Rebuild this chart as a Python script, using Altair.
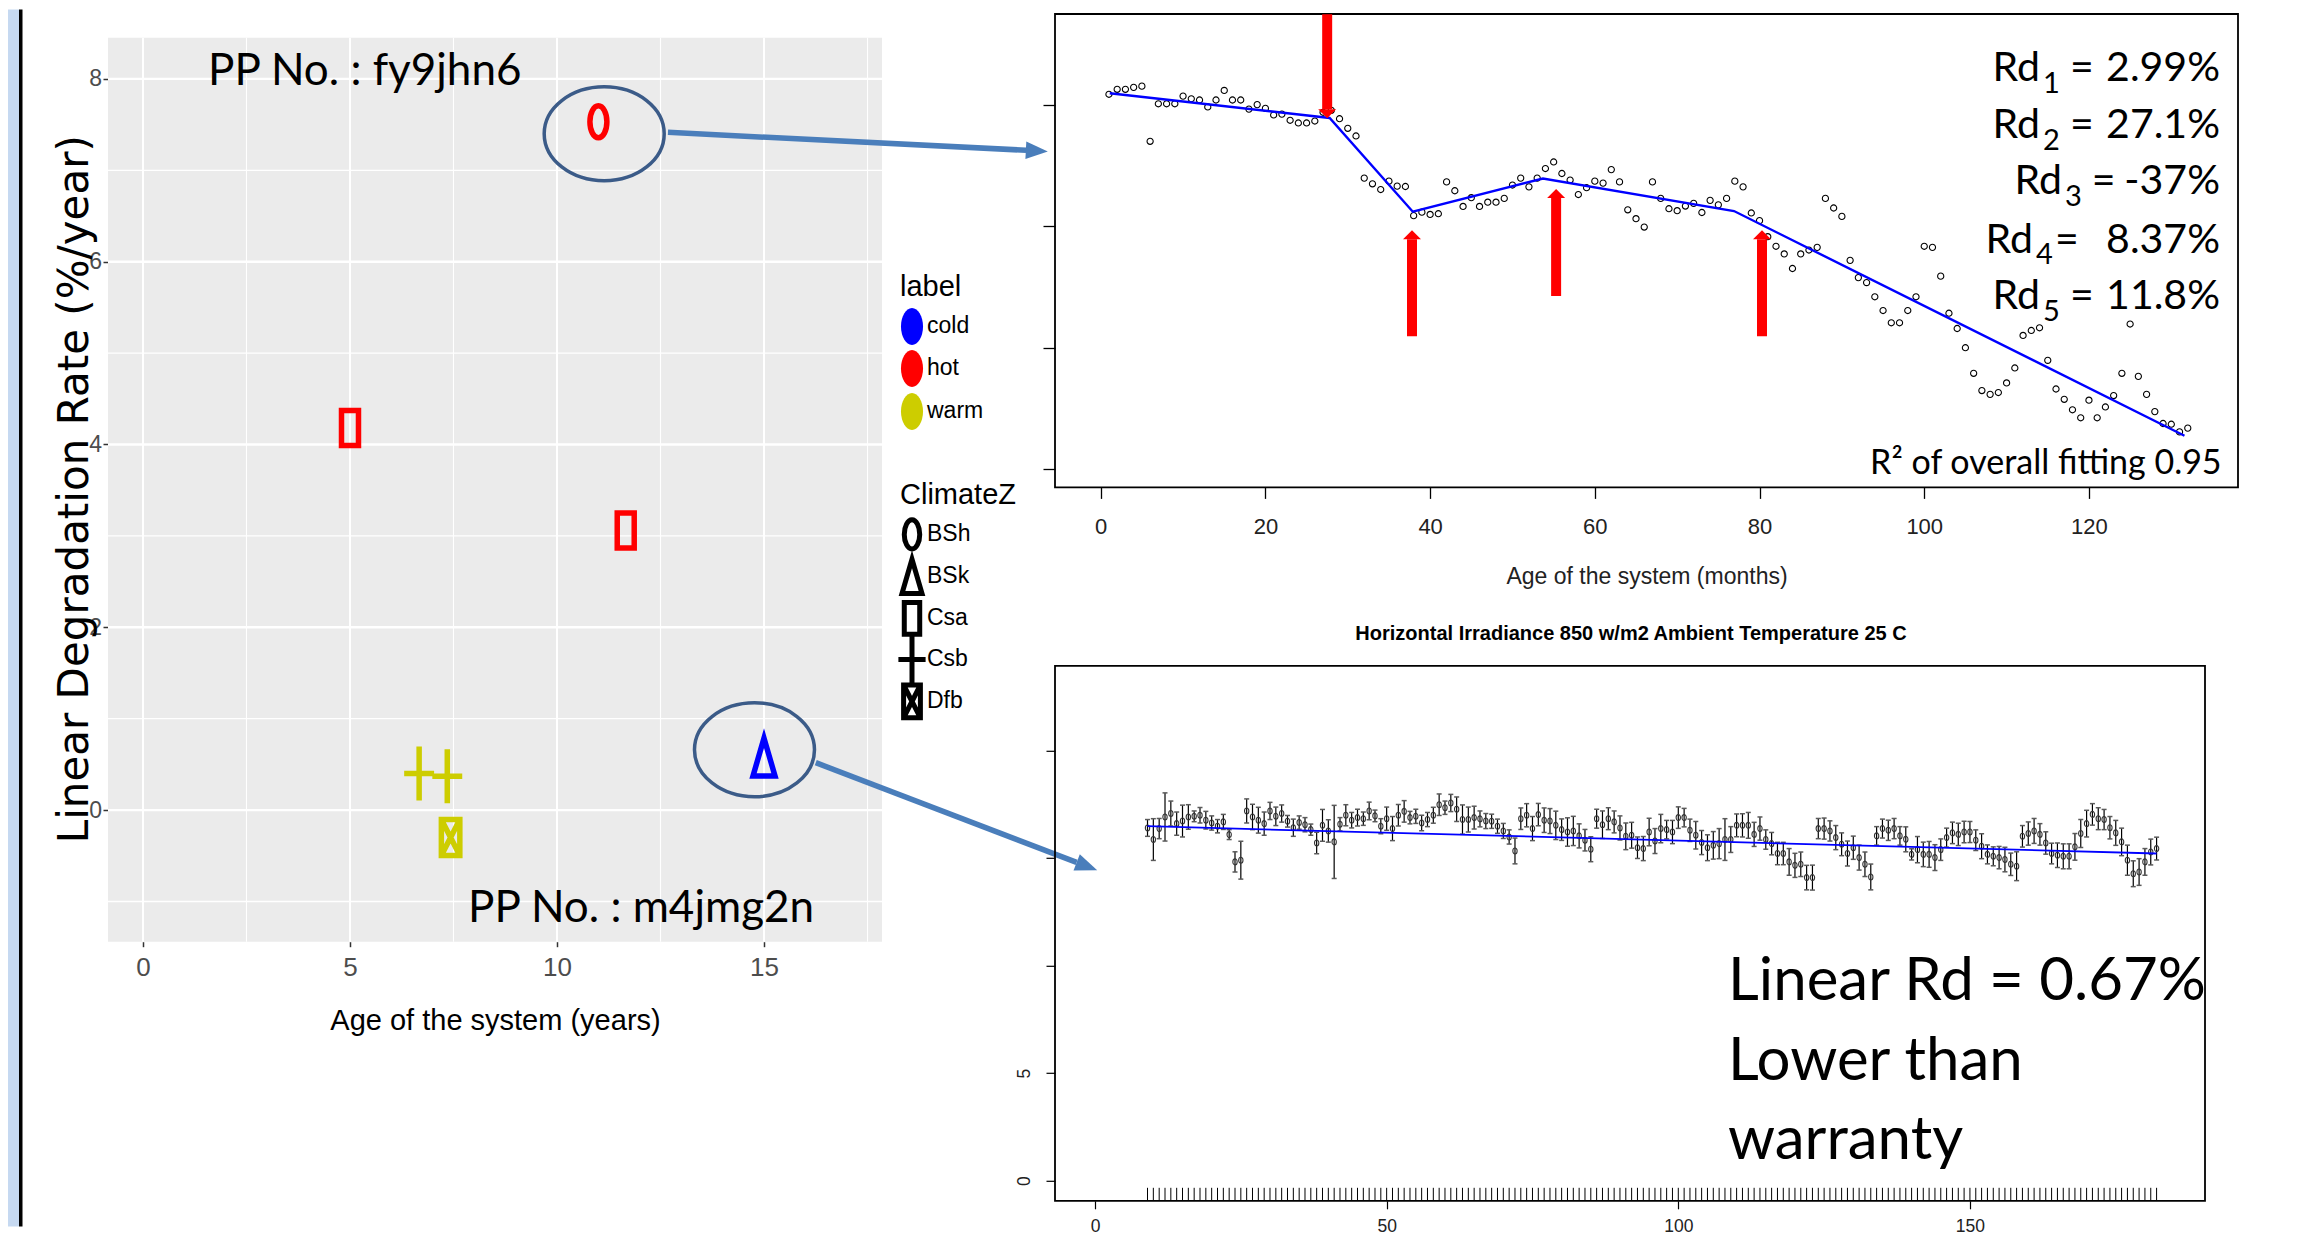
import altair as alt
import pandas as pd

ARIAL = "Liberation Sans, Arial, sans-serif"
CAL = "Lato, Carlito, Open Sans, sans-serif"
WIDE = "DejaVu Sans, Verdana, sans-serif"

# ---------------- Left panel: ggplot scatter ----------------
age_years = [11.0, 5.0, 11.66, 6.67, 7.35, 7.43, 15.0]
rate = [7.53, 4.18, 3.06, 0.40, 0.37, -0.30, 0.58]
climate_label = ["hot", "hot", "hot", "warm", "warm", "warm", "cold"]
climate_zone = ["BSh", "Csa", "Csa", "Csb", "Csb", "Dfb", "BSk"]
label_levels = ["cold", "hot", "warm"]
label_colors = ["#0000FF", "#FF0000", "#CDCD00"]
zone_levels = ["BSh", "BSk", "Csa", "Csb", "Dfb"]
x_ticks_left = [0, 5, 10, 15]
y_ticks_left = [0, 2, 4, 6, 8]
grid_major_x = [0, 5, 10, 15]
grid_minor_x = [2.5, 7.5, 12.5, 17.5]
grid_major_y = [0, 2, 4, 6, 8]
grid_minor_y = [-1, 1, 3, 5, 7]

# ---------------- Top right: piecewise degradation ----------------
perf_months = list(range(1, 133))
perf_values = [
    3.085, 3.126, 3.126, 3.142, 3.152, 2.698, 3.007, 3.007, 3.007, 3.070,
    3.048, 3.038, 2.981, 3.038, 3.117, 3.038, 3.038, 2.963, 3.000, 2.969,
    2.915, 2.922, 2.871, 2.849, 2.849, 2.865, 2.937, 2.953, 2.884, 2.805,
    2.742, 2.395, 2.348, 2.301, 2.370, 2.329, 2.326, 2.086, 2.115, 2.096,
    2.102, 2.364, 2.291, 2.162, 2.234, 2.162, 2.197, 2.197, 2.228, 2.338,
    2.395, 2.323, 2.395, 2.474, 2.528, 2.433, 2.379, 2.260, 2.316, 2.370,
    2.354, 2.465, 2.364, 2.134, 2.061, 1.992, 2.364, 2.228, 2.143, 2.127,
    2.165, 2.187, 2.112, 2.212, 2.175, 2.228, 2.370, 2.323, 2.108, 2.045,
    1.913, 1.834, 1.771, 1.651, 1.771, 1.803, 1.825, 2.228, 2.149, 2.080,
    1.718, 1.576, 1.535, 1.418, 1.305, 1.204, 1.204, 1.305, 1.418, 1.834,
    1.825, 1.588, 1.283, 1.157, 0.999, 0.788, 0.646, 0.615, 0.630, 0.709,
    0.832, 1.100, 1.141, 1.163, 0.895, 0.659, 0.574, 0.488, 0.422, 0.567,
    0.422, 0.511, 0.605, 0.788, 1.194, 0.763, 0.615, 0.473, 0.375, 0.369,
    0.306, 0.337]
fit_months = [1.1, 27.8, 37.9, 53.7, 76.9, 131.6]
fit_values = [3.094, 2.890, 2.118, 2.392, 2.124, 0.274]
arrow_month = [27.5, 37.8, 55.3, 80.3]
arrow_tail = [3.743, 1.093, 1.424, 1.093]
arrow_base = [2.962, 1.891, 2.232, 1.891]
arrow_tip = [2.889, 1.965, 2.306, 1.965]
arrow_angle = [180, 0, 0, 0]
x_ticks_top = [0, 20, 40, 60, 80, 100, 120]
y_ticks_top = [0, 1, 2, 3]
rd_names = ["1", "2", "3", "4", "5"]
rd_values = ["2.99%", "27.1%", "-37%", "8.37%", "11.8%"]

# ---------------- Bottom right: linear fit with error bars ----------------
irr_x = list(range(9, 183))
irr_mean = [
    16.40, 15.86, 16.37, 16.91, 17.07, 16.60, 16.72, 16.91, 16.94, 16.99,
    16.76, 16.63, 16.48, 16.68, 16.09, 14.82, 14.90, 17.19, 16.91, 16.76,
    16.60, 17.19, 16.94, 17.07, 16.71, 16.41, 16.65, 16.55, 16.32, 15.70,
    16.52, 16.26, 15.75, 16.57, 16.99, 16.76, 16.88, 16.83, 17.19, 16.96,
    16.48, 16.83, 16.37, 16.99, 17.17, 16.88, 16.94, 16.63, 16.79, 16.99,
    17.48, 17.34, 17.56, 17.27, 16.79, 16.79, 16.88, 16.82, 16.72, 16.71,
    16.48, 16.26, 15.98, 15.33, 16.83, 16.99, 16.37, 17.02, 16.76, 16.72,
    16.52, 16.32, 16.21, 16.26, 16.03, 15.83, 15.41, 16.83, 16.55, 16.83,
    16.68, 16.40, 16.01, 16.06, 15.48, 15.44, 16.21, 15.79, 16.37, 16.32,
    16.21, 16.88, 16.88, 16.29, 16.06, 15.72, 15.48, 15.59, 15.67, 15.86,
    15.86, 16.52, 16.52, 16.52, 16.10, 16.37, 15.86, 15.67, 15.21, 15.21,
    14.82, 14.66, 14.71, 14.09, 14.09, 16.37, 16.37, 16.26, 15.95, 15.64,
    15.21, 15.48, 15.02, 14.71, 14.12, 16.03, 16.37, 16.29, 16.37, 16.03,
    15.87, 15.17, 15.39, 15.17, 15.17, 15.02, 15.39, 15.95, 16.17, 16.10,
    16.21, 16.21, 15.83, 15.55, 15.17, 15.08, 15.02, 14.93, 14.71, 14.62,
    16.01, 16.14, 16.26, 16.10, 15.70, 15.21, 15.13, 15.08, 15.08, 15.52,
    16.14, 16.60, 17.03, 16.83, 16.79, 16.41, 16.17, 15.75, 14.90, 14.27,
    14.35, 14.82, 15.28, 15.44]
irr_err = [
    0.39, 0.97, 0.47, 1.12, 0.58, 0.54, 0.74, 0.57, 0.25, 0.36,
    0.41, 0.33, 0.31, 0.35, 0.23, 0.47, 0.88, 0.56, 0.59, 0.60,
    0.54, 0.40, 0.43, 0.40, 0.27, 0.40, 0.31, 0.33, 0.26, 0.50,
    0.74, 0.52, 1.70, 0.31, 0.49, 0.36, 0.39, 0.31, 0.41, 0.27,
    0.35, 0.54, 0.56, 0.50, 0.50, 0.29, 0.33, 0.36, 0.33, 0.37,
    0.50, 0.31, 0.40, 0.57, 0.68, 0.58, 0.53, 0.37, 0.35, 0.33,
    0.33, 0.35, 0.33, 0.60, 0.50, 0.54, 0.56, 0.52, 0.57, 0.58,
    0.66, 0.50, 0.66, 0.68, 0.56, 0.50, 0.58, 0.44, 0.64, 0.51,
    0.51, 0.56, 0.62, 0.60, 0.50, 0.56, 0.64, 0.58, 0.66, 0.43,
    0.54, 0.50, 0.43, 0.52, 0.64, 0.56, 0.60, 0.64, 0.70, 0.97,
    0.60, 0.53, 0.54, 0.60, 0.56, 0.54, 0.45, 0.52, 0.52, 0.52,
    0.62, 0.56, 0.57, 0.57, 0.58, 0.47, 0.49, 0.47, 0.56, 0.53,
    0.58, 0.54, 0.58, 0.57, 0.60, 0.43, 0.44, 0.47, 0.47, 0.43,
    0.58, 0.26, 0.61, 0.57, 0.60, 0.60, 0.50, 0.44, 0.50, 0.52,
    0.50, 0.49, 0.48, 0.58, 0.44, 0.44, 0.52, 0.57, 0.52, 0.67,
    0.50, 0.54, 0.58, 0.50, 0.52, 0.48, 0.57, 0.58, 0.58, 0.62,
    0.65, 0.62, 0.50, 0.51, 0.47, 0.52, 0.58, 0.64, 0.70, 0.60,
    0.62, 0.62, 0.60, 0.53]
irr_fit_x = [9, 182]
irr_fit_y = [16.48, 15.21]
x_ticks_bot = [0, 50, 100, 150]
y_ticks_bot = [0, 5, 10, 15, 20]

# annotation anchors (left-panel data coordinates)
ring_x = [11.14, 14.77]
ring_y = [7.40, 0.66]
blue_start_x = [12.68, 16.25]
blue_start_y = [7.415, 0.519]
blue_base_x = [21.33, 22.55]
blue_base_y = [7.219, -0.572]
blue_head_x = [21.59, 22.80]
blue_head_y = [7.213, -0.615]
blue_angle = [2.9, 20.9]


def ell(rx, ry):
    k = 0.5523
    f = lambda v: f"{v:.4f}"
    return (f"M0,{f(-ry)}C{f(k*rx)},{f(-ry)} {f(rx)},{f(-k*ry)} {f(rx)},0"
            f"C{f(rx)},{f(k*ry)} {f(k*rx)},{f(ry)} 0,{f(ry)}"
            f"C{f(-k*rx)},{f(ry)} {f(-rx)},{f(k*ry)} {f(-rx)},0"
            f"C{f(-rx)},{f(-k*ry)} {f(-k*rx)},{f(-ry)} 0,{f(-ry)}Z")


zone_shapes = [
    ell(0.386, 0.727),
    "M0,-0.86L0.5,0.86L-0.5,0.86Z",
    "M-0.386,-0.795L0.386,-0.795L0.386,0.795L-0.386,0.795Z",
    "M-0.68,0L0.68,0M0,-1.23L0,1.23",
    "M-0.42,-0.82L0.42,-0.82L0.42,0.82L-0.42,0.82ZM-0.42,-0.82L0.42,0.82M0.42,-0.82L-0.42,0.82",
]
color_scale = alt.Scale(domain=label_levels, range=label_colors)
shape_scale = alt.Scale(domain=zone_levels, range=zone_shapes)

ONE = pd.DataFrame({"k": [0]})


def txt(s, x, y, size, font, align="left", color="black", weight="normal", baseline="alphabetic"):
    return alt.Chart(ONE).mark_text(text=s, font=font, fontSize=size, align=align, baseline=baseline,
                                    color=color, fontWeight=weight, clip=False).encode(
        x=alt.value(x), y=alt.value(y))


# ================= LEFT CHART =================
LW, LH = 774, 927.7
xsL = alt.Scale(domain=[-0.845, 17.85], nice=False, zero=False)
ysL = alt.Scale(domain=[-1.44, 8.71], nice=False, zero=False)
axLx = alt.Axis(values=x_ticks_left, title="Age of the system (years)", grid=False, domain=False,
                tickColor="#333333", tickSize=5, tickWidth=1.5, labelFont=ARIAL, labelFontSize=26,
                labelColor="#4D4D4D", labelPadding=8, labelFlush=False, labelOverlap=False,
                titleFont=ARIAL, titleFontSize=29, titleFontWeight="normal", titleColor="black",
                titleX=387, titleY=79, titleAlign="center", titleBaseline="middle")
axLy = alt.Axis(values=y_ticks_left, title="Linear Degradation Rate (%/year)", grid=False, domain=False,
                tickColor="#333333", tickSize=5, tickWidth=1.5, labelFont=ARIAL, labelFontSize=23,
                labelColor="#4D4D4D", labelAngle=0, labelAlign="right", labelBaseline="middle",
                labelPadding=1.5, labelFlush=False, labelOverlap=False,
                titleFont=WIDE, titleFontSize=42, titleFontWeight="normal", titleColor="black",
                titleAngle=270, titleX=-33.5, titleY=474.7, titleAlign="center", titleBaseline="middle")


def XL(f):
    return alt.X(f, type="quantitative", scale=xsL, axis=axLx)


def YL(f):
    return alt.Y(f, type="quantitative", scale=ysL, axis=axLy)


panel_df = pd.DataFrame({"x0": [-0.845], "x1": [17.85], "y0": [-1.44], "y1": [8.45]})
L_panel = alt.Chart(panel_df).mark_rect(color="#EBEBEB").encode(x=XL("x0"), x2="x1", y=YL("y0"), y2="y1")

gvx = pd.DataFrame({"gx": grid_major_x, "y0": -1.44, "y1": 8.45})
gvm = pd.DataFrame({"gx": grid_minor_x, "y0": -1.44, "y1": 8.45})
ghx = pd.DataFrame({"gy": grid_major_y, "x0": -0.845, "x1": 17.85})
ghm = pd.DataFrame({"gy": grid_minor_y, "x0": -0.845, "x1": 17.85})
L_gv1 = alt.Chart(gvm).mark_rule(color="white", strokeWidth=1.1).encode(x=XL("gx"), y=YL("y0"), y2="y1")
L_gh1 = alt.Chart(ghm).mark_rule(color="white", strokeWidth=1.3).encode(y=YL("gy"), x=XL("x0"), x2="x1")
L_gv2 = alt.Chart(gvx).mark_rule(color="white", strokeWidth=2.0).encode(x=XL("gx"), y=YL("y0"), y2="y1")
L_gh2 = alt.Chart(ghx).mark_rule(color="white", strokeWidth=2.4).encode(y=YL("gy"), x=XL("x0"), x2="x1")

pts = pd.DataFrame({"age": age_years, "rate": rate, "label": climate_label, "ClimateZ": climate_zone})
L_pts = alt.Chart(pts).mark_point(filled=False, strokeWidth=5.5, size=1936, opacity=1).encode(
    x=XL("age"), y=YL("rate"),
    color=alt.Color("label:N", scale=color_scale, legend=None),
    shape=alt.Shape("ClimateZ:N", scale=shape_scale, legend=None),
)

# legend (ggplot style), drawn with the same colour and shape scales
legend_color_y = [312.4, 354.4, 397.4]
legend_shape_y = [520.4, 562.4, 604.4, 645.4, 687.4]
leg_layers = [txt("label", 792, 282.4, 29, ARIAL), txt("ClimateZ", 792, 490.4, 29, ARIAL)]
for lab, py in zip(label_levels, legend_color_y):
    d = pd.DataFrame({"label": [lab]})
    leg_layers.append(alt.Chart(d).mark_point(shape=ell(0.595, 1.0), size=1369, filled=True, opacity=1,
                                              strokeWidth=0).encode(
        x=alt.value(804), y=alt.value(py), color=alt.Color("label:N", scale=color_scale, legend=None)))
    leg_layers.append(txt(lab, 819, py, 23, ARIAL, baseline="middle"))
for zone, py in zip(zone_levels, legend_shape_y):
    d = pd.DataFrame({"ClimateZ": [zone]})
    leg_layers.append(alt.Chart(d).mark_point(filled=False, size=1600, strokeWidth=5, color="black",
                                              opacity=1).encode(
        x=alt.value(804), y=alt.value(py), shape=alt.Shape("ClimateZ:N", scale=shape_scale, legend=None)))
    leg_layers.append(txt(zone, 819, py, 23, ARIAL, baseline="middle"))

rings = pd.DataFrame({"x": ring_x, "y": ring_y})
L_rings = alt.Chart(rings).mark_point(shape=ell(1, 0.783), size=14400, filled=False, color="#3B5B88",
                                      strokeWidth=3.5, opacity=1, clip=False).encode(x=XL("x"), y=YL("y"))
barrows = pd.DataFrame({"x": blue_start_x, "y": blue_start_y, "x2": blue_base_x, "y2": blue_base_y,
                        "hx": blue_head_x, "hy": blue_head_y, "ang": blue_angle})
L_bline = alt.Chart(barrows).mark_rule(color="#4A7EBB", strokeWidth=5.5, clip=False).encode(
    x=XL("x"), y=YL("y"), x2="x2", y2="y2")
L_bhead = alt.Chart(barrows).mark_point(shape="M1,0L-1,-0.8L-1,0.8Z", filled=True, size=484,
                                        color="#4A7EBB", opacity=1, clip=False).encode(
    x=XL("hx"), y=YL("hy"), angle=alt.Angle("ang:Q", scale=None))

L_strip = alt.Chart(ONE).mark_rect(color="#C6D9F1").encode(
    x=alt.value(-100), x2=alt.value(-89), y=alt.value(-4.6), y2=alt.value(1212.4))
L_bar = alt.Chart(ONE).mark_rect(color="black").encode(
    x=alt.value(-89), x2=alt.value(-85.5), y=alt.value(-4.6), y2=alt.value(1212.4))

left = alt.layer(
    L_panel, L_gv1, L_gh1, L_gv2, L_gh2, L_pts, L_rings, L_bline, L_bhead, *leg_layers,
    txt("PP No. : fy9jhn6", 100, 71.4, 44, CAL),
    txt("PP No. : m4jmg2n", 360, 908.4, 44, CAL),
    L_strip, L_bar,
).properties(width=LW, height=LH)

# ================= TOP RIGHT CHART =================
TW, TH = 1183, 473.4
xsT = alt.Scale(domain=[-5.55, 138.1], nice=False, zero=False)
ysT = alt.Scale(domain=[-0.151, 3.746], nice=False, zero=False)
axTx = alt.Axis(values=x_ticks_top, title="Age of the system (months)", grid=False, domain=False,
                tickColor="black", tickSize=11, tickWidth=1.3, labelFont=ARIAL, labelFontSize=22,
                labelColor="#222222", labelPadding=18, labelFlush=False, labelOverlap=False,
                titleFont=ARIAL, titleFontSize=23, titleFontWeight="normal", titleColor="#222222",
                titleX=591.5, titleY=89, titleAlign="center", titleBaseline="middle")
axTy = alt.Axis(values=y_ticks_top, labels=False, title=None, grid=False, domain=False,
                tickColor="black", tickSize=12, tickWidth=1.3)


def XT(f):
    return alt.X(f, type="quantitative", scale=xsT, axis=axTx)


def YT(f):
    return alt.Y(f, type="quantitative", scale=ysT, axis=axTy)


perf = pd.DataFrame({"m": perf_months, "v": perf_values})
fit = pd.DataFrame({"m": fit_months, "v": fit_values})
arr = pd.DataFrame({"m": arrow_month, "tail": arrow_tail, "base": arrow_base, "tip": arrow_tip,
                    "ang": arrow_angle})
arr["mid"] = (arr["base"] + arr["tip"]) / 2

T_pts = alt.Chart(perf).mark_point(shape="circle", size=38, filled=False, color="black",
                                   strokeWidth=1.1, opacity=1).encode(x=XT("m"), y=YT("v"))
T_fit = alt.Chart(fit).mark_line(color="#0000FF", strokeWidth=2.4).encode(x=XT("m"), y=YT("v"))
T_shaft = alt.Chart(arr).mark_rule(color="#FF0000", strokeWidth=10, clip=False).encode(
    x=XT("m"), y=YT("tail"), y2="base")
T_head = alt.Chart(arr).mark_point(shape="M0,-0.5L1,0.5L-1,0.5Z", filled=True, size=324, color="#FF0000",
                                   opacity=1, clip=False).encode(
    x=XT("m"), y=YT("mid"), angle=alt.Angle("ang:Q", scale=None))

rd_right = [985, 985, 1007, 978, 985]
rd_base = [67.4, 124.4, 180.4, 239.4, 295.4]
sub_base = [79.1, 135.7, 192.4, 250.4, 307.4]
eq_left = [1015, 1015, 1036.7, 1000, 1015]
rd_layers = []
for i in range(5):
    rd_layers.append(txt("Rd", rd_right[i], rd_base[i], 41, CAL, align="right"))
    rd_layers.append(txt(rd_names[i], rd_right[i] + 3, sub_base[i], 29, CAL))
    rd_layers.append(txt("=", eq_left[i], rd_base[i], 41, CAL))
    rd_layers.append(txt(rd_values[i], 1165, rd_base[i], 41, CAL, align="right"))

top = alt.layer(
    T_pts, T_fit, T_shaft, T_head, *rd_layers,
    txt("R² of overall fitting 0.95", 1166.6, 460, 34, CAL, align="right"),
).properties(width=TW, height=TH, view=alt.ViewBackground(stroke="black", strokeWidth=1.8))

# ================= BOTTOM RIGHT CHART =================
BW, BH = 1150, 535
xsB = alt.Scale(domain=[-6.86, 190.3], nice=False, zero=False)
ysB = alt.Scale(domain=[-0.94, 23.94], nice=False, zero=False)
axBx = alt.Axis(values=x_ticks_bot, title=None, grid=False, domain=False, tickColor="black", tickSize=8,
                tickWidth=1.2, labelFont=ARIAL, labelFontSize=17.5, labelColor="#222222", labelPadding=9,
                labelFlush=False, labelOverlap=False)
axBy = alt.Axis(values=y_ticks_bot, title=None, grid=False, domain=False, tickColor="black", tickSize=9,
                tickWidth=1.2, labelFont=ARIAL, labelFontSize=17.5, labelColor="#222222",
                labelAngle=270, labelAlign="center", labelBaseline="alphabetic", labelPadding=16.5,
                labelExpr="datum.value <= 5 ? datum.label : ''", labelFlush=False, labelOverlap=False)


def XB(f):
    return alt.X(f, type="quantitative", scale=xsB, axis=axBx)


def YB(f):
    return alt.Y(f, type="quantitative", scale=ysB, axis=axBy)


irr = pd.DataFrame({"x": irr_x, "m": irr_mean, "e": irr_err})
irr["lo"] = irr["m"] - irr["e"]
irr["hi"] = irr["m"] + irr["e"]
irr_fit = pd.DataFrame({"x": irr_fit_x, "m": irr_fit_y})

B_bars = alt.Chart(irr).mark_rule(color="black", strokeWidth=1.2).encode(x=XB("x"), y=YB("lo"), y2="hi")
B_cap1 = alt.Chart(irr).mark_tick(orient="horizontal", size=5, thickness=1.5, color="#5A5A5A",
                                  opacity=1).encode(x=XB("x"), y=YB("lo"))
B_cap2 = alt.Chart(irr).mark_tick(orient="horizontal", size=5, thickness=1.5, color="#5A5A5A",
                                  opacity=1).encode(x=XB("x"), y=YB("hi"))
B_pts = alt.Chart(irr).mark_point(shape=ell(0.72, 1.0), size=36, filled=False, color="#333333",
                                  strokeWidth=1.1, opacity=1).encode(x=XB("x"), y=YB("m"))
B_fit = alt.Chart(irr_fit).mark_line(color="#0000FF", strokeWidth=1.8).encode(x=XB("x"), y=YB("m"))
B_rug = alt.Chart(irr).mark_rule(color="black", strokeWidth=1).encode(
    x=XB("x"), y=alt.value(BH), y2=alt.value(BH - 13))

bottom = alt.layer(
    B_bars, B_cap1, B_cap2, B_pts, B_fit, B_rug,
    txt("Horizontal Irradiance 850 w/m2 Ambient Temperature 25 C", 576, -25.8, 20, ARIAL,
        align="center", weight="bold"),
    txt("Linear Rd = 0.67%", 673, 333.9, 60, CAL),
    txt("Lower than", 673, 414.6, 60, CAL),
    txt("warranty", 673, 493.2, 60, CAL),
).properties(width=BW, height=BH, view=alt.ViewBackground(stroke="black", strokeWidth=1.8))

right = alt.vconcat(top, bottom, spacing=177.8, bounds="flush")
chart = alt.hconcat(left, right, spacing=173, bounds="flush").properties(
    padding=0, background="white"
).configure_view(stroke=None)

chart.save("out.html", embed_options={"renderer": "svg", "actions": False})
